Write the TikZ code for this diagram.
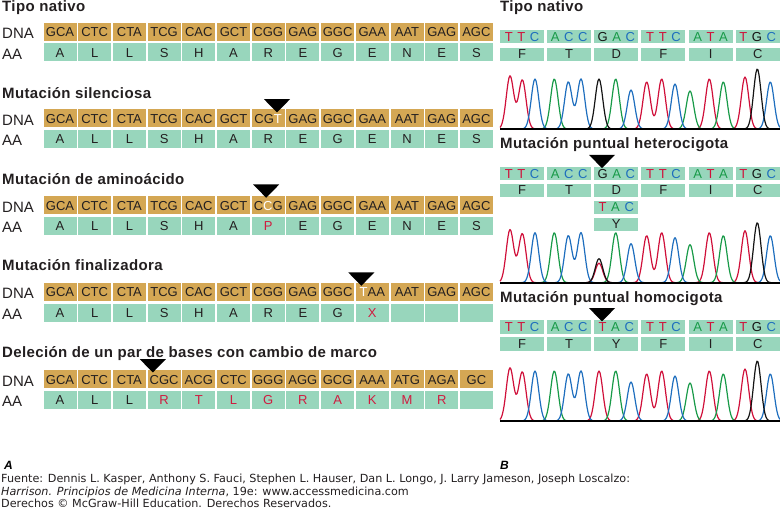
\documentclass[tikz,border=0pt]{standalone}
\usepackage{fontspec}
\setmainfont{Liberation Sans}
\newfontfamily\titlefont[LetterSpace=2.5]{Liberation Sans}
\newfontfamily\footfont{DejaVu Sans}
\usepackage{xcolor}
\usepackage{tikz}
\usetikzlibrary{positioning, calc}
\definecolor{MutGold}{RGB}{212, 167, 84}
\definecolor{MutMint}{RGB}{152, 214, 188}
\definecolor{MutRed}{RGB}{208, 28, 64}
\definecolor{MutText}{RGB}{35, 31, 32}
\definecolor{nucT}{RGB}{208, 16, 58}
\definecolor{nucA}{RGB}{24, 154, 72}
\definecolor{nucC}{RGB}{30, 110, 190}
\definecolor{nucG}{RGB}{20, 20, 20}

\newcommand\bas[1]{\textcolor{nuc#1}{#1}}
\newcommand\trip[3]{\bas{#1}\hspace{4.6pt}\bas{#2}\hspace{4.6pt}\bas{#3}}
\newcommand\pointer[1]{\fill[black] (#1) -- ++(-13,-13.3) -- ++(26,0) -- cycle;}
\newcommand\traces[3]{%
  \draw[trace, nucT] plot[domain=500:780, samples=281] (\x, {#1-pk(\x,510,53)-pk(\x,522.3,49)-pk(\x,599,#3)-pk(\x,646.7,47)-pk(\x,661.7,50)-pk(\x,709.3,50)-pk(\x,745,52)});
  \draw[trace, nucA] plot[domain=500:780, samples=281] (\x, {#1-pk(\x,554.3,50)-pk(\x,615.7,50)-pk(\x,690,38)-pk(\x,723.3,47)});
  \draw[trace, nucC] plot[domain=500:780, samples=281] (\x, {#1-pk(\x,535,50)-pk(\x,568.3,47)-pk(\x,581,50)-pk(\x,631,39)-pk(\x,675,45)-pk(\x,770.3,47)});
  \draw[trace, nucG] plot[domain=500:780, samples=281] (\x, {#1-pk(\x,599,#2)-pk(\x,757.3,60)});
  \draw[line width=2pt] (500,#1) -- (780,#1);
}

\tikzset{
  rowtitle/.style={anchor=base west, inner sep=0pt, font=\titlefont\fontsize{15}{17}\selectfont\bfseries, text=MutText},
  rowlabel/.style={anchor=base west, inner sep=0pt, font=\fontsize{15}{17}\selectfont, text=MutText},
  dnabox/.style={fill=MutGold, minimum width=33pt, minimum height=18pt, inner sep=0pt,
    text height=9.4pt, text depth=0pt, font=\fontsize{13}{13}\selectfont, text=MutText},
  aabox/.style={dnabox, fill=MutMint},
  seqbox/.style={fill=MutMint, minimum width=44pt, minimum height=13.3pt, inner sep=0pt,
    text height=9.4pt, text depth=0pt, font=\fontsize{13}{13}\selectfont, text=MutText},
  trace/.style={line width=1.2pt, line join=round},
  srcline/.style={anchor=base west, inner sep=0pt, font=\footfont\fontsize{11.2}{13}\selectfont, text=MutText},
  declare function={pk(\s,\m,\h)=\h*exp(-min(20,((\s-\m)/5.3)*((\s-\m)/5.3)));}
}

\begin{document}
\begin{tikzpicture}[x=1pt, y=-1pt]
  \useasboundingbox (0,0) rectangle (780,510);

  % A: tipo nativo
  \node[rowtitle] (t1) at (2,12) {Tipo nativo};
  \node[rowlabel] (dna1) at (2,38.3) {DNA};
  \node[rowlabel] (aa1) at (2,59.3) {AA};
  \foreach \cdn [count=\i from 0] in {GCA,CTC,CTA,TCG,CAC,GCT,CGG,GAG,GGC,GAA,AAT,GAG,AGC}
    \node[dnabox] (d1-\i) at ({60+34.7*\i},31.7) {\cdn};
  \foreach \res [count=\i from 0] in {A,L,L,S,H,A,R,E,G,E,N,E,S}
    \node[aabox] (a1-\i) at ({60+34.7*\i},52.5) {\res};

  % A: silenciosa
  \node[rowtitle] (t2) at (2,98.3) {Mutación silenciosa};
  \node[rowlabel] (dna2) at (2,125.1) {DNA};
  \node[rowlabel] (aa2) at (2,146) {AA};
  \foreach \cdn [count=\i from 0] in {GCA,CTC,CTA,TCG,CAC,GCT,{CG\textcolor{white}{T}},GAG,GGC,GAA,AAT,GAG,AGC}
    \node[dnabox] (d2-\i) at ({60+34.7*\i},118.5) {\cdn};
  \foreach \res [count=\i from 0] in {A,L,L,S,H,A,R,E,G,E,N,E,S}
    \node[aabox] (a2-\i) at ({60+34.7*\i},139.2) {\res};
  \pointer{$(d2-6.north)+(8.8,3.2)$}

  % A: aminoacido
  \node[rowtitle] (t3) at (2,184.3) {Mutación de aminoácido};
  \node[rowlabel] (dna3) at (2,212.1) {DNA};
  \node[rowlabel] (aa3) at (2,233) {AA};
  \foreach \cdn [count=\i from 0] in {GCA,CTC,CTA,TCG,CAC,GCT,{C\textcolor{white}{C}G},GAG,GGC,GAA,AAT,GAG,AGC}
    \node[dnabox] (d3-\i) at ({60+34.7*\i},205.5) {\cdn};
  \foreach \res [count=\i from 0] in {A,L,L,S,H,A,{\textcolor{MutRed}{P}},E,G,E,N,E,S}
    \node[aabox] (a3-\i) at ({60+34.7*\i},226.2) {\res};
  \pointer{$(d3-6.north)+(-2,1.5)$}

  % A: finalizadora
  \node[rowtitle] (t4) at (2,271) {Mutación finalizadora};
  \node[rowlabel] (dna4) at (2,298.6) {DNA};
  \node[rowlabel] (aa4) at (2,320) {AA};
  \foreach \cdn [count=\i from 0] in {GCA,CTC,CTA,TCG,CAC,GCT,CGG,GAG,GGC,{\textcolor{white}{T}AA},AAT,GAG,AGC}
    \node[dnabox] (d4-\i) at ({60+34.7*\i},292) {\cdn};
  \foreach \res [count=\i from 0] in {A,L,L,S,H,A,R,E,G,{\textcolor{MutRed}{X}},{},{},{}}
    \node[aabox] (a4-\i) at ({60+34.7*\i},313.2) {\res};
  \pointer{$(d4-9.north)+(-11,3)$}

  % A: delecion
  \node[rowtitle] (t5) at (2,357.3) {Deleción de un par de bases con cambio de marco};
  \node[rowlabel] (dna5) at (2,386.1) {DNA};
  \node[rowlabel] (aa5) at (2,407) {AA};
  \foreach \cdn [count=\i from 0] in {GCA,CTC,CTA,CGC,ACG,CTC,GGG,AGG,GCG,AAA,ATG,AGA,GC}
    \node[dnabox] (d5-\i) at ({60+34.7*\i},379.5) {\cdn};
  \foreach \res [count=\i from 0] in {A,L,L,R,T,L,G,R,A,K,M,R,{}}
    \node[aabox] (a5-\i) at ({60+34.7*\i},400.2) {\ifnum\i>2 \textcolor{MutRed}{\res}\else\res\fi};
  \pointer{$(d5-3.north)+(-11.3,2.2)$}

  % B: tipo nativo
  \node[rowtitle] (r1) at (500,11.7) {Tipo nativo};
  \foreach \one/\two/\three [count=\i from 0] in {T/T/C,A/C/C,G/A/C,T/T/C,A/T/A,T/G/C}
    \node[seqbox] (c1-\i) at ({522+47.15*\i},36.7) {\trip{\one}{\two}{\three}};
  \foreach \res [count=\i from 0] in {F,T,D,F,I,C}
    \node[seqbox] (p1-\i) at ({522+47.15*\i},54.3) {\res};
  \traces{129}{50}{0}

  % B: heterocigota
  \node[rowtitle] (r2) at (500,148.3) {Mutación puntual heterocigota};
  \foreach \one/\two/\three [count=\i from 0] in {T/T/C,A/C/C,G/A/C,T/T/C,A/T/A,T/G/C}
    \node[seqbox] (c2-\i) at ({522+47.15*\i},173.7) {\trip{\one}{\two}{\three}};
  \foreach \res [count=\i from 0] in {F,T,D,F,I,C}
    \node[seqbox] (p2-\i) at ({522+47.15*\i},190.3) {\res};
  \node[seqbox] (c2-mut) at (616.3,207.3) {\trip{T}{A}{C}};
  \node[seqbox] (p2-mut) at (616.3,224.3) {Y};
  \pointer{$(c2-2.north)+(-14.3,1.3)$}
  \traces{282.7}{24}{19.5}

  % B: homocigota
  \node[rowtitle] (r3) at (500,303) {Mutación puntual homocigota};
  \foreach \one/\two/\three [count=\i from 0] in {T/T/C,A/C/C,T/A/C,T/T/C,A/T/A,T/G/C}
    \node[seqbox] (c3-\i) at ({522+47.15*\i},327) {\trip{\one}{\two}{\three}};
  \foreach \res [count=\i from 0] in {F,T,Y,F,I,C}
    \node[seqbox] (p3-\i) at ({522+47.15*\i},344) {\res};
  \pointer{$(c3-2.north)+(-14.3,1.3)$}
  \traces{421}{0}{50}

  \node[anchor=base west, inner sep=0pt, font=\fontsize{12}{14}\selectfont\bfseries\itshape] (lblA) at (4,470) {A};
  \node[anchor=base west, inner sep=0pt, font=\fontsize{12}{14}\selectfont\bfseries\itshape] (lblB) at (500,470) {B};

  \node[srcline] (src1) at (1,483)
    {Fuente: Dennis L. Kasper, Anthony S. Fauci, Stephen L. Hauser, Dan L. Longo, J. Larry Jameson, Joseph Loscalzo:};
  \node[srcline] (src2) at (1,495.5)
    {\textit{Harrison. Principios de Medicina Interna}, 19e: www.accessmedicina.com};
  \node[srcline] (src3) at (1,508)
    {Derechos © McGraw-Hill Education. Derechos Reservados.};
\end{tikzpicture}
\end{document}
